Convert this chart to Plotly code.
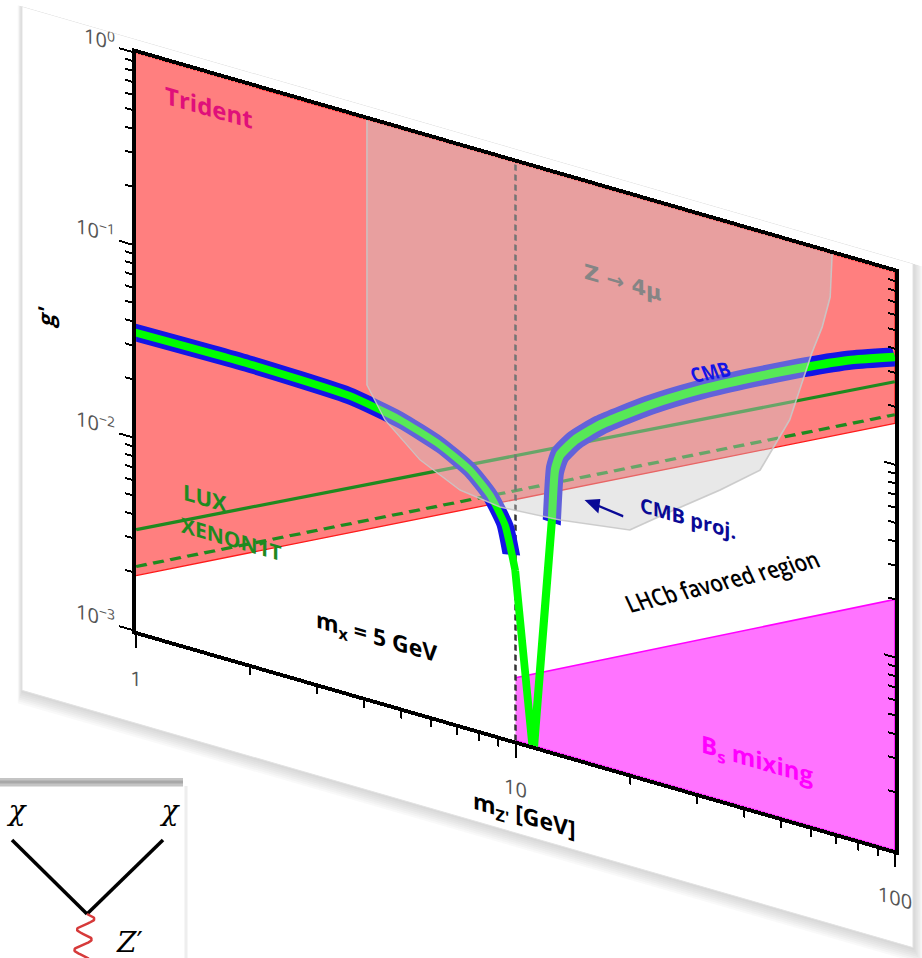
import numpy as np
import plotly.graph_objects as go

W, H = 922, 958
SHEAR = 0.2887  # vertical shear applied to the whole panel

# ---------------- data: m_Z' [GeV] and g' ----------------
# Trident exclusion: lower edge of the excluded band
trident_m = [1.0, 100.0]
trident_g = [1.94e-3, 0.164]

# B_s mixing exclusion: upper edge, from m_Z' = 10 GeV
bs_m = [10.0, 100.0]
bs_g = [2.12e-3, 0.020]

# direct-detection limits
lux_m = [1.0, 100.0]
lux_g = [3.36e-3, 0.270]
xenon_m = [1.0, 100.0]
xenon_g = [2.16e-3, 0.182]

# relic-density curve for m_x = 5 GeV
relic_m = [1.0, 2.0, 3.66, 4.97, 6.32, 7.59, 8.57, 9.38, 9.98, 11.14,
           12.47, 12.71, 13.1, 14.35, 16.71, 22.59, 30.62, 41.50, 56.23, 76.03, 100.0]
relic_g = [0.0353, 0.0359, 0.0347, 0.0310, 0.0264, 0.0217, 0.0172, 0.0127, 0.00766, 0.00089,
           0.0158, 0.0291, 0.0354, 0.0446, 0.0582, 0.0877, 0.125, 0.171, 0.229, 0.299, 0.363]

# CMB constraint along the relic curve: low-mass and high-mass branches
cmb_low_m = [1.0, 2.0, 3.66, 4.97, 6.32, 7.59, 8.57, 9.38, 9.75]
cmb_low_g = [0.0353, 0.0359, 0.0347, 0.0310, 0.0264, 0.0217, 0.0172, 0.0127, 0.00908]
cmb_high_m = [12.46, 12.71, 13.1, 14.35, 16.71, 22.59, 30.62, 41.50, 56.23, 76.03, 100.0]
cmb_high_g = [0.01535, 0.0291, 0.0354, 0.0446, 0.0582, 0.0877, 0.125, 0.171, 0.229, 0.299, 0.363]

# Z -> 4 mu exclusion contour
z4mu_m = [4.06, 4.06, 4.53, 5.6, 7.14, 9.1, 13.1, 20.0, 25.1, 34.6, 44.1,
          52.8, 60.4, 64.3, 67.5, 68.2, 68.3]
z4mu_g = [1.0, 0.042, 0.0294, 0.0206, 0.0165, 0.01545, 0.01626, 0.01837, 0.0256, 0.0405, 0.0589,
          0.119, 0.286, 0.404, 0.594, 0.908, 1.0]

# m_Z' = 2 m_x
resonance_m = [10.0, 10.0]
resonance_g = [1e-3, 1.0]

# axis ticks
x_tickvals = [1, 10, 100]
x_ticktext = ["1", "10", "100"]
y_tickvals = [1e-3, 1e-2, 1e-1, 1]
y_ticktext = ["10<sup>−3</sup>", "10<sup>−2</sup>", "10<sup>−1</sup>", "10<sup>0</sup>"]
x_minor = [k * 10.0 ** e for e in (0, 1) for k in range(2, 10)]
y_minor = [k * 10.0 ** e for e in (-3, -2, -1) for k in range(2, 10)]

# Feynman vertex (pixel frame of the inset)
leg_left_x, leg_left_y = [12, 87], [840, 914]
leg_right_x, leg_right_y = [163, 87], [840, 914]

FONT = "Open Sans"
BLUE = "#1414e6"
GREEN = "#00ff00"

fig = go.Figure()


def band(x, y, color, width, shape="spline"):
    fig.add_trace(go.Scatter(x=x, y=y, mode="lines", hoverinfo="skip",
                             line=dict(color=color, width=width, shape=shape, smoothing=0.5)))


# exclusion regions
fig.add_trace(go.Scatter(x=trident_m + [100.0, 1.0], y=trident_g + [1.0, 1.0], fill="toself",
                         fillcolor="rgba(255,0,0,0.5)", line=dict(color="#ff1a1a", width=1.2),
                         mode="lines", hoverinfo="skip"))
fig.add_trace(go.Scatter(x=bs_m + [100.0, 10.0], y=bs_g + [1e-3, 1e-3], fill="toself",
                         fillcolor="rgba(255,0,255,0.55)", line=dict(color="#ff00ff", width=1.5),
                         mode="lines", hoverinfo="skip"))
fig.add_trace(go.Scatter(x=lux_m, y=lux_g, mode="lines",
                         line=dict(color="#1f8a1f", width=3), hoverinfo="skip"))
fig.add_trace(go.Scatter(x=xenon_m, y=xenon_g, mode="lines",
                         line=dict(color="#1f8a1f", width=3, dash="12px,7px"), hoverinfo="skip"))
fig.add_trace(go.Scatter(x=resonance_m, y=resonance_g, mode="lines",
                         line=dict(color="#333333", width=2.5, dash="6px,4px"), hoverinfo="skip"))

# CMB band with the relic curve on top
band(cmb_low_m, cmb_low_g, BLUE, 18)
band(cmb_high_m, cmb_high_g, BLUE, 18)
band(relic_m[:9], relic_g[:9], GREEN, 8)
band(relic_m[8:11], relic_g[8:11], GREEN, 8, shape="linear")
band(relic_m[10:], relic_g[10:], GREEN, 8)

# Z -> 4 mu region drawn translucent over everything below
fig.add_trace(go.Scatter(x=z4mu_m, y=z4mu_g, fill="toself", mode="lines",
                         fillcolor="rgba(202,202,202,0.43)",
                         line=dict(color="rgba(200,200,200,0.9)", width=1.5), hoverinfo="skip"))
# empty trace carrying the right-hand tick axis
fig.add_trace(go.Scatter(x=[], y=[], yaxis="y3", hoverinfo="skip"))

# Feynman vertex inset
fig.add_trace(go.Scatter(x=[0, 183], y=[782, 782], xaxis="x2", yaxis="y2", mode="lines",
                         line=dict(color="#c4c4c4", width=9), hoverinfo="skip"))
fig.add_trace(go.Scatter(x=[0, 183], y=[782, 782], xaxis="x2", yaxis="y2", mode="lines",
                         line=dict(color="#a8a8a8", width=3), hoverinfo="skip"))
fig.add_trace(go.Scatter(x=[186, 186], y=[786, 958], xaxis="x2", yaxis="y2", mode="lines",
                         line=dict(color="#eeeeee", width=3), hoverinfo="skip"))
fig.add_trace(go.Scatter(x=leg_left_x, y=leg_left_y, xaxis="x2", yaxis="y2", mode="lines",
                         line=dict(color="black", width=3.5), hoverinfo="skip"))
fig.add_trace(go.Scatter(x=leg_right_x, y=leg_right_y, xaxis="x2", yaxis="y2", mode="lines",
                         line=dict(color="black", width=3.5), hoverinfo="skip"))
t = np.linspace(0, 1, 80)
fig.add_trace(go.Scatter(x=87 - 6 * t + 8 * np.sin(2 * np.pi * 2.25 * t), y=914 + 46 * t,
                         xaxis="x2", yaxis="y2", mode="lines",
                         line=dict(color="#d63a3a", width=2.5), hoverinfo="skip"))
fig.add_trace(go.Scatter(x=[17, 170, 130], y=[813, 813, 945], xaxis="x2", yaxis="y2",
                         mode="text", text=["<i>χ</i>", "<i>χ</i>", "<i>Z</i>′"],
                         textfont=dict(family="DejaVu Serif", size=28, color="black"),
                         cliponaxis=False, hoverinfo="skip"))

# card with soft shadow behind the panel
card_l, card_r, card_b = 22, 913, 684
shapes = []
for i in range(1, 8):
    shapes.append(dict(type="rect", xref="paper", yref="paper", layer="below",
                       x0=(card_l - 0.6 * i) / W, x1=(card_r + 1.4 * i) / W,
                       y0=1 - (card_b + 2.0 * i) / H, y1=1.0,
                       fillcolor="rgba(110,110,110,0.045)", line=dict(width=0)))
shapes.append(dict(type="rect", xref="paper", yref="paper", layer="below",
                   x0=card_l / W, x1=card_r / W, y0=1 - card_b / H, y1=1.0,
                   fillcolor="white", line=dict(color="#e2e2e2", width=1)))


def lg(v):
    return float(np.log10(v))


def note(text, m, g, color, size, angle=0, weight="bold", family=FONT):
    return dict(text=text, x=lg(m), y=lg(g), xref="x", yref="y", showarrow=False,
                textangle=angle, font=dict(family=family, size=size, color=color, weight=weight))


annotations = [
    note("Trident", 1.56, 0.68, "#e0107a", 24),
    note("Z → 4μ", 19.2, 0.343, "#858585", 21, family="DejaVu Sans"),
    note("CMB", 32.6, 0.16, BLUE, 19, angle=-25),
    note("CMB proj.", 28.5, 0.026, "#0a0a96", 20),
    note("LUX", 1.52, 6.3e-3, "#1f8a1f", 22),
    note("XENON1T", 1.78, 4.18e-3, "#1f8a1f", 21),
    note("m<sub>x</sub> = 5 GeV", 4.29, 2.13e-3, "black", 23),
    note("LHCb favored region", 35.0, 0.0139, "black", 22, angle=-28, weight=600),
    note("B<sub>s</sub> mixing", 43.3, 1.82e-3, "#ff00ff", 24),
    dict(x=lg(15.2), y=lg(0.0225), ax=lg(19.4), ay=lg(0.0211), xref="x", yref="y",
         axref="x", ayref="y", showarrow=True, arrowhead=2, arrowsize=1.2, arrowwidth=2.5,
         arrowcolor="#0a0a96", text=""),
    dict(text="m<sub>Z'</sub> [GeV]", x=524 / W, y=1 - 684 / H, xref="paper", yref="paper",
         showarrow=False, font=dict(family=FONT, size=23, color="black", weight="bold")),
]

axis_common = dict(type="log", showgrid=False, zeroline=False, showline=True, linecolor="black",
                   linewidth=4, mirror=True, tickwidth=2, tickcolor="black",
                   ticklabeloverflow="allow", automargin=False,
                   tickfont=dict(family=FONT, size=20, color="#555555"))

fig.update_layout(
    template="none",
    width=W, height=H, margin=dict(l=0, r=0, t=0, b=0, pad=0, autoexpand=False),
    paper_bgcolor="rgba(0,0,0,0)", plot_bgcolor="white", showlegend=False,
    shapes=shapes, annotations=annotations,
    xaxis=dict(**axis_common, range=[0, 2], domain=[136 / W, 895 / W], anchor="y",
               ticks="outside", ticklen=13, tickvals=x_tickvals, ticktext=x_ticktext,
               ticklabelstandoff=14,
               minor=dict(ticks="outside", ticklen=7, tickwidth=2, tickcolor="black",
                          tickvals=x_minor, showgrid=False)),
    yaxis=dict(**axis_common, range=[-3, 0], domain=[1 - 591.74 / H, 1 - 13.74 / H], anchor="x",
               ticks="outside", ticklen=13, tickvals=y_tickvals, ticktext=y_ticktext,
               ticklabelshift=-3,
               title=dict(text="<b>g'</b>", standoff=16,
                          font=dict(family=FONT, size=22, color="black")),
               minor=dict(ticks="outside", ticklen=7, tickwidth=2, tickcolor="black",
                          tickvals=y_minor, showgrid=False)),
    yaxis3=dict(type="log", range=[-3, 0], overlaying="y", side="right", anchor="x",
                showgrid=False, zeroline=False, showline=False, showticklabels=False,
                automargin=False,
                ticks="inside", ticklen=11, tickwidth=2, tickcolor="black", tickvals=y_tickvals,
                minor=dict(ticks="inside", ticklen=7, tickwidth=2, tickcolor="black",
                           tickvals=y_minor, showgrid=False)),
    xaxis2=dict(domain=[0, 190 / W], range=[0, 190], visible=False, anchor="y2",
                automargin=False),
    yaxis2=dict(domain=[0, 180 / H], range=[958, 778], visible=False, anchor="x2",
                automargin=False),
)

post = """
var gd = document.getElementById('{plot_id}');
document.documentElement.style.overflow = 'hidden';
document.body.style.overflow = 'hidden';
document.body.style.margin = '0';
var wrap = gd.parentElement;
wrap.style.width = '%dpx';
wrap.style.height = '%dpx';
wrap.style.overflow = 'hidden';
wrap.style.position = 'relative';
gd.style.transformOrigin = '0 0';
gd.style.transform = 'matrix(1, %f, 0, 1, 0, 0)';
var inset = gd.querySelector('g.subplot.x2y2');
if (inset) { inset.setAttribute('transform', 'matrix(1, %f, 0, 1, 0, 0)'); }
""" % (W, H, SHEAR, -SHEAR)

fig.write_html("out.html", post_script=post, config=dict(staticPlot=True))
